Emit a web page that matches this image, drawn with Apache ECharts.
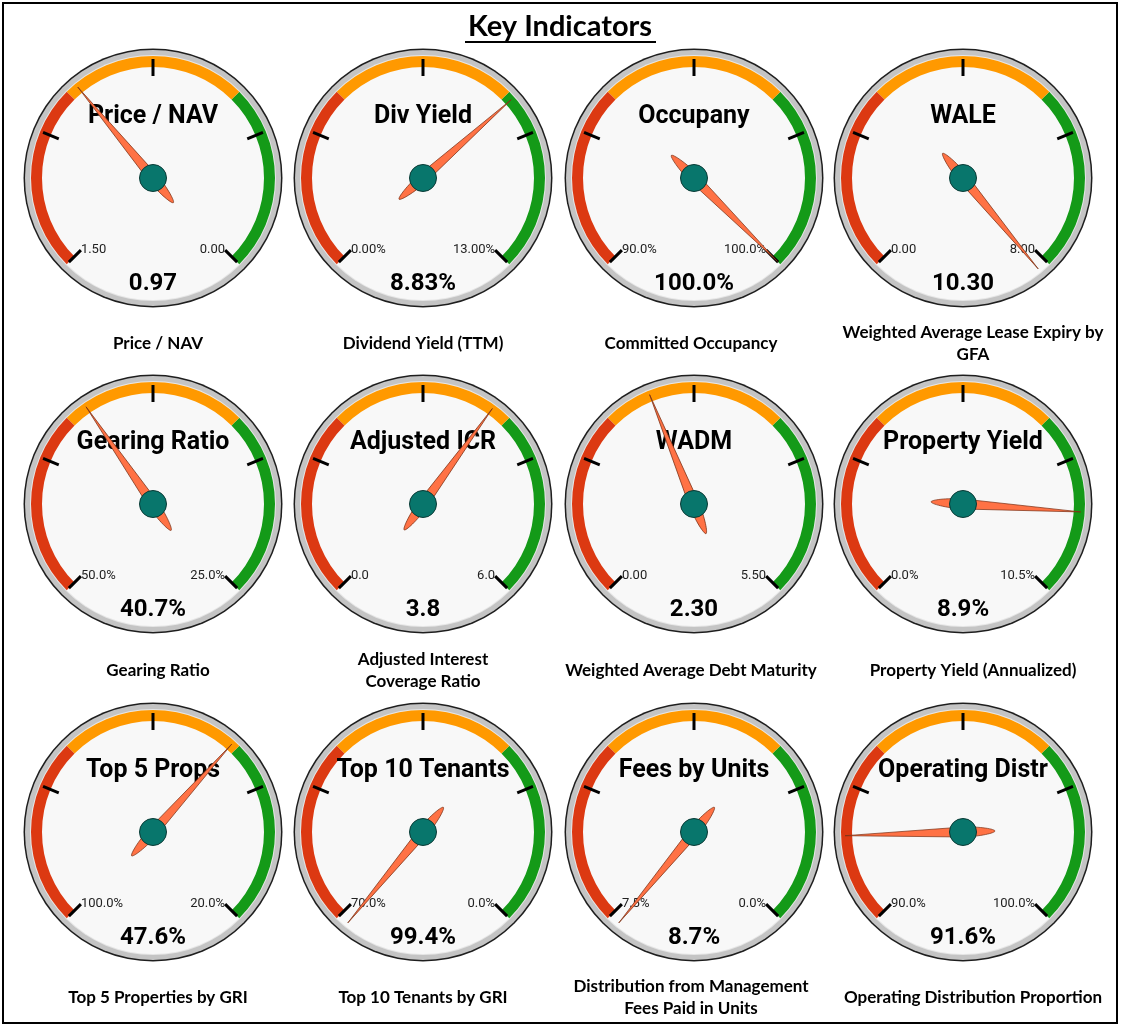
<!DOCTYPE html>
<html><head><meta charset="utf-8">
<script src="https://cdn.jsdelivr.net/npm/echarts@6/dist/echarts.min.js"></script>
<style>html,body{margin:0;padding:0;background:#fff}#c{width:1122px;height:1031px}</style>
</head><body><div id="c"></div>
<script>
// ---- data ----
const gaugeTitles = ['Price / NAV','Div Yield','Occupany','WALE','Gearing Ratio','Adjusted ICR','WADM','Property Yield','Top 5 Props','Top 10 Tenants','Fees by Units','Operating Distr'];
const subtitles = ['Price / NAV','Dividend Yield (TTM)','Committed Occupancy','Weighted Average Lease Expiry by\nGFA','Gearing Ratio','Adjusted Interest\nCoverage Ratio','Weighted Average Debt Maturity','Property Yield (Annualized)','Top 5 Properties by GRI','Top 10 Tenants by GRI','Distribution from Management\nFees Paid in Units','Operating Distribution Proportion'];
const values = [0.97, 8.83, 100.0, 10.30, 40.7, 3.8, 2.30, 8.9, 47.6, 99.4, 8.7, 91.6];
const rangeMin = [1.5, 0, 90, 0, 50, 0, 0, 0, 100, 70, 7.5, 90];
const rangeMax = [0, 13, 100, 8, 25, 6, 5.5, 10.5, 20, 0, 0, 100];
const decimals = [2, 2, 1, 2, 1, 1, 2, 1, 1, 1, 1, 1];
const suffix = ['', '%', '%', '', '%', '', '', '%', '%', '%', '%', '%'];
const mainTitle = 'Key Indicators';

// ---- layout / style ----
const colX = [153, 423, 694, 963];
const rowY = [178, 504, 832];
const subX = [158, 423, 691, 973];
const subY = [344, 671, 998];
const RED = '#dc3912', ORANGE = '#ff9900', GREEN = '#149a18';
const OVER = 0.02 * 270;
const NEEDLE = 'path://M5,0 L10,118 C10,135 7,150 5,150 C3,150 0,135 0,118 Z';
const FONT = 'Roboto';
const SUBFONT = 'Lato';

function fmt(v, i) { return v.toFixed(decimals[i]) + suffix[i]; }

const chart = echarts.init(document.getElementById('c'));
const series = [];
const titles = [{
  text: mainTitle, left: 560, top: 27, textAlign: 'center', textVerticalAlign: 'middle', padding: 0,
  textStyle: { fontFamily: SUBFONT, fontWeight: 'bold', fontSize: 29, color: '#000' }
}];

values.forEach((v, i) => {
  const col = i % 4, row = Math.floor(i / 4);
  const center = [colX[col], rowY[row]];
  const lo = rangeMin[i], hi = rangeMax[i];
  const span = hi - lo;
  const tol = Math.abs(span) * 1e-6;
  const bare = {
    axisTick: { show: false }, splitLine: { show: false }, axisLabel: { show: false },
    pointer: { show: false }, anchor: { show: false }, title: { show: false }, detail: { show: false }
  };
  const disc = (r, color) => Object.assign({
    type: 'gauge', center, radius: r, startAngle: 90, endAngle: -270, z: 1, silent: true, animation: false,
    axisLine: { lineStyle: { width: r, color: [[1, color]] } }, data: [{ value: 0 }]
  }, bare);
  series.push(disc(129.5, '#1e1e1e'), disc(128, '#c4c4c4'), disc(123, '#e6e6e6'), disc(122, '#f8f8f8'));

  series.push({
    type: 'gauge', center, radius: 122, startAngle: 225, endAngle: -45, min: lo, max: hi, splitNumber: 4,
    z: 2, animation: false, silent: true,
    axisLine: { lineStyle: { width: 11, color: [[1 / 3, RED], [2 / 3, ORANGE], [1, GREEN]] } },
    axisTick: { show: false },
    splitLine: { distance: -8, length: 17, lineStyle: { width: 3, color: '#000' } },
    axisLabel: {
      distance: 11, fontSize: 13, color: '#222', fontFamily: FONT,
      formatter: x => Math.abs(x - lo) <= tol ? fmt(lo, i) : (Math.abs(x - hi) <= tol ? fmt(hi, i) : '')
    },
    pointer: { show: false }, anchor: { show: false }, detail: { show: false },
    title: { offsetCenter: [0, -61], fontSize: 25, fontWeight: 'bold', color: '#000', fontFamily: FONT },
    data: [{ value: v, name: gaugeTitles[i] }]
  });

  series.push({
    type: 'gauge', center, radius: 122, startAngle: 225 + OVER, endAngle: -45 - OVER,
    min: lo - 0.02 * span, max: hi + 0.02 * span, z: 3, animation: false, silent: true,
    axisLine: { show: false }, axisTick: { show: false }, splitLine: { show: false }, axisLabel: { show: false },
    pointer: {
      show: true, icon: NEEDLE, width: 10, length: 150, offsetCenter: [0, 32],
      itemStyle: { color: '#ff7245', borderColor: '#7a3015', borderWidth: 0.7 }
    },
    anchor: { show: true, showAbove: true, size: 27, itemStyle: { color: '#08766c', borderColor: '#0a3a35', borderWidth: 1 } },
    title: { show: false },
    detail: { offsetCenter: [0, 106], formatter: () => fmt(v, i), fontSize: 24, fontWeight: 'bold', color: '#000', fontFamily: FONT },
    data: [{ value: v }]
  });

  titles.push({
    text: subtitles[i], left: subX[col], top: subY[row], textAlign: 'center', textVerticalAlign: 'middle', padding: 0,
    textStyle: { fontFamily: SUBFONT, fontWeight: 'bold', fontSize: 17, lineHeight: 22, color: '#000' }
  });
});

chart.setOption({
  backgroundColor: '#fff',
  animation: false,
  title: titles,
  series,
  graphic: [
    { type: 'rect', shape: { x: 3, y: 3, width: 1114, height: 1020 }, style: { fill: 'none', stroke: '#000', lineWidth: 2 }, silent: true },
    { type: 'line', shape: { x1: 465, y1: 42, x2: 656, y2: 42 }, style: { stroke: '#000', lineWidth: 2 }, silent: true }
  ]
});
</script></body></html>
